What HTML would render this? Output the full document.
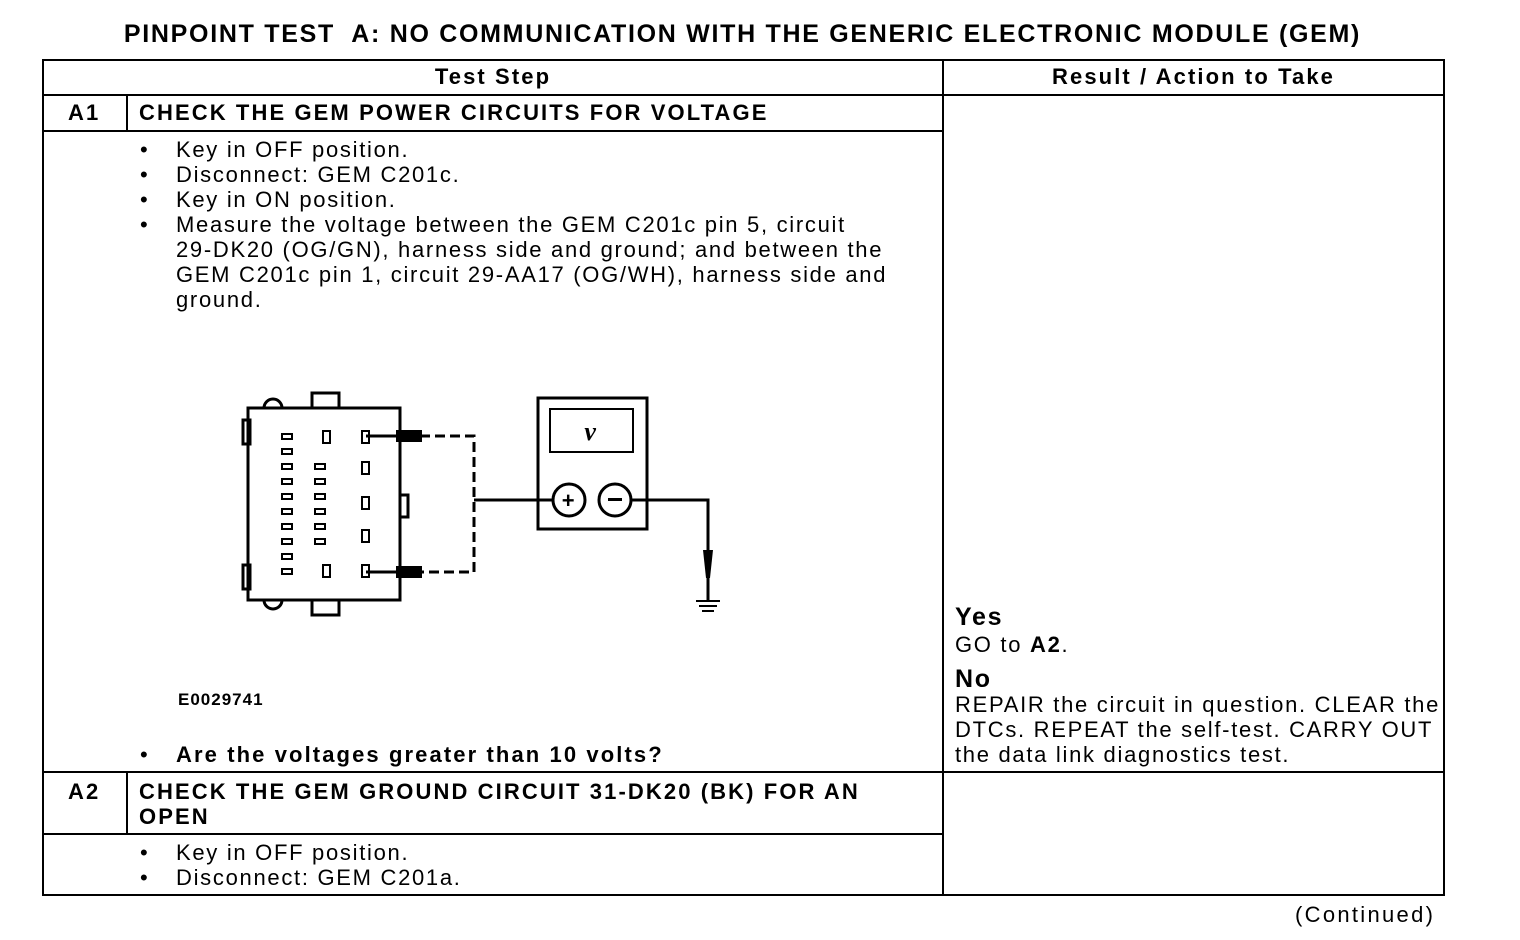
<!DOCTYPE html>
<html><head><style>
body{margin:0;width:1520px;height:940px;background:#fff;font-family:"Liberation Sans",Arial,sans-serif;color:#000;position:relative;overflow:hidden}
.a{position:absolute;white-space:nowrap;letter-spacing:1.7px}
.b{font-weight:bold}
.t{font-size:22px;line-height:25px}
.bt{letter-spacing:2.1px}
</style></head><body>
<div class="a b" style="left:0;width:1485px;text-align:center;top:20px;font-size:25px;letter-spacing:1.7px">PINPOINT TEST&nbsp; A: NO COMMUNICATION WITH THE GENERIC ELECTRONIC MODULE (GEM)</div>
<svg class="a" style="left:0;top:0" width="1520" height="940">
<g stroke="#000" stroke-width="2" fill="none">
<rect x="43" y="60" width="1401" height="835"/>
<line x1="943" y1="60" x2="943" y2="895"/>
<line x1="43" y1="95" x2="1444" y2="95"/>
<line x1="43" y1="131" x2="943" y2="131"/>
<line x1="127" y1="95" x2="127" y2="131"/>
<line x1="43" y1="772" x2="1444" y2="772"/>
<line x1="127" y1="772" x2="127" y2="834"/>
<line x1="43" y1="834" x2="943" y2="834"/>
</g>
<g stroke="#000" fill="none" stroke-width="3">
<rect x="248" y="408" width="152" height="192"/>
<rect x="312" y="393" width="27" height="15"/>
<rect x="312" y="600" width="27" height="15"/>
<path d="M264 408 a9 9 0 0 1 18 0"/>
<path d="M264 600 a9 9 0 0 0 18 0"/>
<rect x="243" y="420" width="7" height="24"/>
<rect x="243" y="565" width="7" height="24"/>
<rect x="400" y="495" width="8" height="22"/>
<rect x="538" y="398" width="109" height="131"/>
<circle cx="569" cy="500" r="16"/><circle cx="615" cy="500" r="16"/>
<path d="M474 500 H553 M631 500 H708 V600"/>
<path d="M420 436 H474 V572 H420" stroke-dasharray="10,5"/>
<path d="M366 436 H400 M366 572 H400"/>
</g>
<rect x="550" y="409" width="83" height="43" stroke="#000" stroke-width="2" fill="none"/>
<text x="591" y="440" font-family="Liberation Serif" font-weight="bold" font-style="italic" font-size="26" text-anchor="middle">v</text>
<text x="569" y="508" font-size="22" font-weight="bold" text-anchor="middle">+</text>
<rect x="608" y="498" width="14" height="3"/>
<rect x="396" y="430" width="26" height="12"/><rect x="396" y="566" width="26" height="12"/>
<path d="M703 550 h10 l-3 28 h-4z"/>
<g stroke="#000" stroke-width="2"><line x1="696" y1="601" x2="720" y2="601"/><line x1="699" y1="606" x2="717" y2="606"/><line x1="702" y1="611" x2="714" y2="611"/></g>
<g stroke="#000" stroke-width="2" fill="none">
<rect x="282" y="434" width="10" height="5"/><rect x="282" y="449" width="10" height="5"/><rect x="282" y="464" width="10" height="5"/><rect x="282" y="479" width="10" height="5"/><rect x="282" y="494" width="10" height="5"/><rect x="282" y="509" width="10" height="5"/><rect x="282" y="524" width="10" height="5"/><rect x="282" y="539" width="10" height="5"/><rect x="282" y="554" width="10" height="5"/><rect x="282" y="569" width="10" height="5"/>
<rect x="315" y="464" width="10" height="5"/><rect x="315" y="479" width="10" height="5"/><rect x="315" y="494" width="10" height="5"/><rect x="315" y="509" width="10" height="5"/><rect x="315" y="524" width="10" height="5"/><rect x="315" y="539" width="10" height="5"/>
<rect x="323" y="431" width="7" height="12"/><rect x="323" y="565" width="7" height="12"/>
<rect x="362" y="431" width="7" height="12"/><rect x="362" y="462" width="7" height="12"/><rect x="362" y="497" width="7" height="12"/><rect x="362" y="530" width="7" height="12"/><rect x="362" y="565" width="7" height="12"/>
</g>
</svg>
<div class="a b t bt" style="top:64px;left:943px;width:501px;text-align:center">Result / Action to Take</div>
<div class="a b t bt" style="left:43px;width:900px;text-align:center;top:64px">Test Step</div>
<div class="a b t bt" style="left:68px;top:100px">A1</div>
<div class="a b t bt" style="left:139px;top:100px">CHECK THE GEM POWER CIRCUITS FOR VOLTAGE</div>
<div class="a t" style="left:140px;top:137px">•<br>•<br>•<br>•</div>
<div class="a t" style="left:176px;top:137px">Key in OFF position.<br>Disconnect: GEM C201c.<br>Key in ON position.<br>Measure the voltage between the GEM C201c pin 5, circuit<br>29-DK20 (OG/GN), harness side and ground; and between the<br>GEM C201c pin 1, circuit 29-AA17 (OG/WH), harness side and<br>ground.</div>
<div class="a b" style="left:178px;top:690px;font-size:17px;letter-spacing:1px">E0029741</div>
<div class="a t" style="left:140px;top:742px">•</div>
<div class="a b t bt" style="left:176px;top:742px">Are the voltages greater than 10 volts?</div>
<div class="a b" style="left:955px;top:603px;font-size:25px">Yes</div>
<div class="a t" style="left:955px;top:632px">GO to <b>A2</b>.</div>
<div class="a b" style="left:955px;top:665px;font-size:25px">No</div>
<div class="a t" style="left:955px;top:692px">REPAIR the circuit in question. CLEAR the<br>DTCs. REPEAT the self-test. CARRY OUT<br>the data link diagnostics test.</div>
<div class="a b t bt" style="left:68px;top:779px">A2</div>
<div class="a b t bt" style="left:139px;top:779px">CHECK THE GEM GROUND CIRCUIT 31-DK20 (BK) FOR AN<br>OPEN</div>
<div class="a t" style="left:140px;top:840px">•<br>•</div>
<div class="a t" style="left:176px;top:840px">Key in OFF position.<br>Disconnect: GEM C201a.</div>
<div class="a t" style="left:1295px;top:902px;letter-spacing:2.3px">(Continued)</div>
</body></html>
